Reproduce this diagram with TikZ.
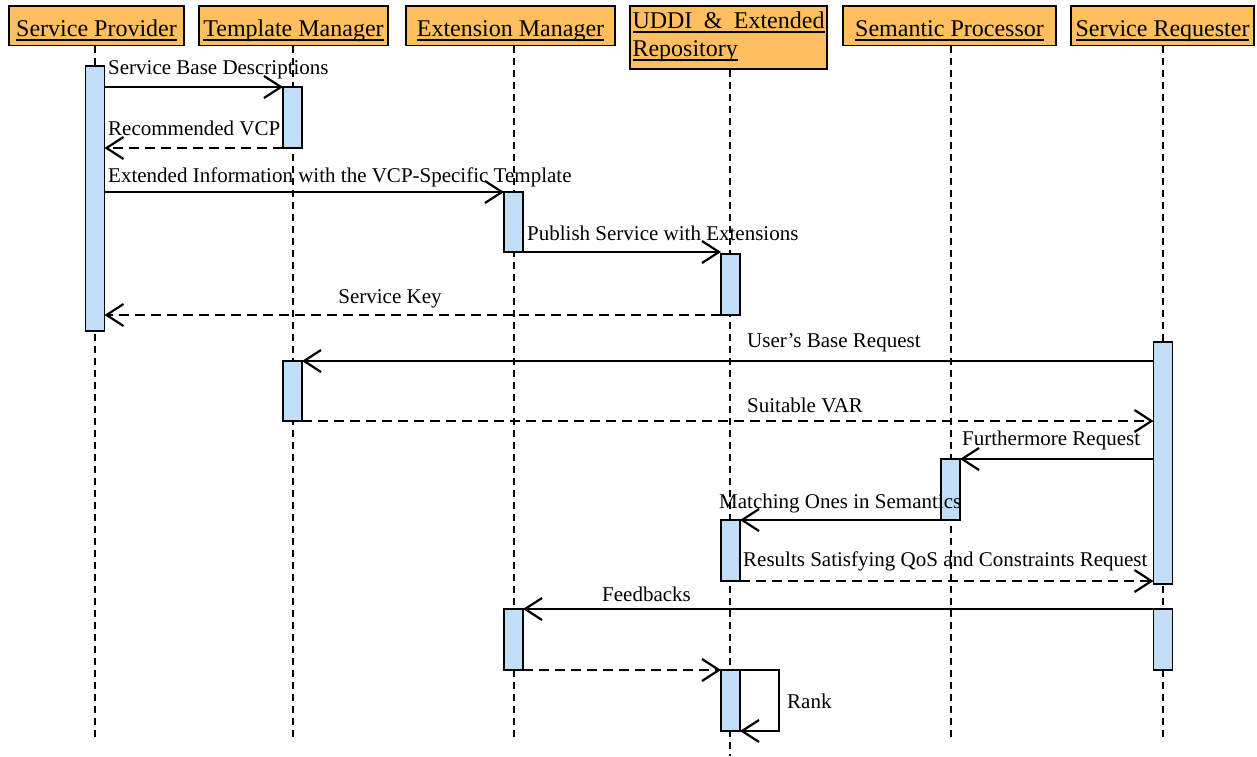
\documentclass[tikz,border=0pt]{standalone}
\usepackage{fontspec}
\setmainfont{Liberation Serif}
\usetikzlibrary{arrows.meta}
\definecolor{hdrfill}{RGB}{255,191,94}
\definecolor{barfill}{RGB}{192,222,248}
\newcommand\hul[1]{\leavevmode\setbox0\hbox{#1}\rlap{\rule[-4.3pt]{\wd0}{1.8pt}}\box0}
\begin{document}
\begin{tikzpicture}[x=1pt,y=-1pt,
 hdr/.style={draw, line width=1.8pt, fill=hdrfill, inner sep=0pt, minimum height=39.5pt, text height=22.8pt, text depth=1pt, font=\fontsize{24}{28.4}\selectfont},
 lifeline/.style={line width=1.8pt, dash pattern=on 7pt off 5pt},
 actbar/.style={draw, line width=1.8pt, fill=barfill, minimum width=19pt, inner sep=0pt, outer sep=0pt, anchor=north},
 msg/.style={line width=2.2pt, -{Straight Barb[length=17pt,width=22pt]}},
 ret/.style={msg, dash pattern=on 10pt off 6pt},
 lbl/.style={inner sep=0pt, anchor=base west, font=\fontsize{21}{25}\selectfont}]
\useasboundingbox (0,0) rectangle (1257,756);

% headers
\node[hdr, minimum width=175pt] (sp) at (96.5,25.75) {\hul{Service Provider}};
\node[hdr, minimum width=189pt] (tm) at (293.5,25.75) {\hul{Template Manager}};
\node[hdr, minimum width=209pt] (em) at (510.5,25.75) {\hul{Extension Manager}};
\node[hdr, minimum width=197pt, minimum height=63pt, text width=192pt, inner xsep=2.5pt, align=left, text height=5pt, text depth=23.4pt] (ud) at (728.5,37.5) {\hul{\makebox[192pt]{UDDI\hfill\&\hfill Extended}}\\\hul{Repository}};
\node[hdr, minimum width=213pt] (se) at (949.5,25.75) {\hul{Semantic Processor}};
\node[hdr, minimum width=183pt] (sr) at (1162.5,25.75) {\hul{Service Requester}};

% lifelines
\coordinate (spe) at (95,737);
\coordinate (tme) at (293,737);
\coordinate (eme) at (514,737);
\coordinate (ude) at (730,756);
\coordinate (see) at (951,737);
\coordinate (sre) at (1163,737);
\draw[lifeline] (sp.south -| spe) -- (spe);
\draw[lifeline] (tm.south -| tme) -- (tme);
\draw[lifeline] (em.south -| eme) -- (eme);
\draw[lifeline] (ud.south -| ude) -- (ude);
\draw[lifeline] (se.south -| see) -- (see);
\draw[lifeline] (sr.south -| sre) -- (sre);

% activation bars
\node[actbar, minimum height=265pt] (sp1) at (95,66) {};
\node[actbar, minimum height=61pt] (tm1) at (292.5,87) {};
\node[actbar, minimum height=60pt] (em1) at (513.5,192) {};
\node[actbar, minimum height=61pt] (ud1) at (730.5,254) {};
\node[actbar, minimum height=242pt] (sr1) at (1163,342) {};
\node[actbar, minimum height=60pt] (tm2) at (292.5,361) {};
\node[actbar, minimum height=61pt] (se1) at (950.5,459) {};
\node[actbar, minimum height=61pt] (ud2) at (730.5,520) {};
\node[actbar, minimum height=61pt] (sr2) at (1163,609) {};
\node[actbar, minimum height=61pt] (em2) at (513.5,609) {};
\node[actbar, minimum height=61pt] (ud3) at (730.5,670) {};

% messages
\draw[msg] (sp1.east |- tm1.north) -- (tm1.north west);
\draw[ret] (tm1.south west) -- (sp1.east |- tm1.south);
\draw[msg] (sp1.east |- em1.north) -- (em1.north west);
\draw[msg] (em1.south) -- (ud1.west |- em1.south);
\draw[ret] (ud1.south west) -- (sp1.east |- ud1.south);
\draw[msg] (sr1.west |- tm2.north) -- (tm2.north east);
\draw[ret] (tm2.south east) -- (sr1.west |- tm2.south);
\draw[msg] (sr1.west |- se1.north) -- (se1.north east);
\draw[msg] (se1.south west) -- (ud2.north east);
\draw[ret] (ud2.south east) -- (sr1.west |- ud2.south);
\draw[msg] (sr2.north) -- (em2.north east);
\draw[ret] (em2.south east) -- (ud3.north west);
\draw[msg] (ud3.north east) -- ++(39,0) |- (ud3.south east);

% labels
\node[lbl] (l1) at (108,74) {Service Base Descriptions};
\node[lbl] (l2) at (108,135) {Recommended VCP};
\node[lbl] (l3) at (108,182) {Extended Information with the VCP-Specific Template};
\node[lbl] (l4) at (527,240) {Publish Service with Extensions};
\node[lbl, anchor=base] (l5) at (390,303) {Service Key};
\node[lbl] (l6) at (747,347) {User’s Base Request};
\node[lbl] (l7) at (747,412) {Suitable VAR};
\node[lbl] (l8) at (962,445) {Furthermore Request};
\node[lbl] (l9) at (719,508) {Matching Ones in Semantics};
\node[lbl] (l10) at (743,566) {Results Satisfying QoS and Constraints Request};
\node[lbl] (l11) at (602,601) {Feedbacks};
\node[lbl] (l12) at (787,708) {Rank};
\end{tikzpicture}
\end{document}
